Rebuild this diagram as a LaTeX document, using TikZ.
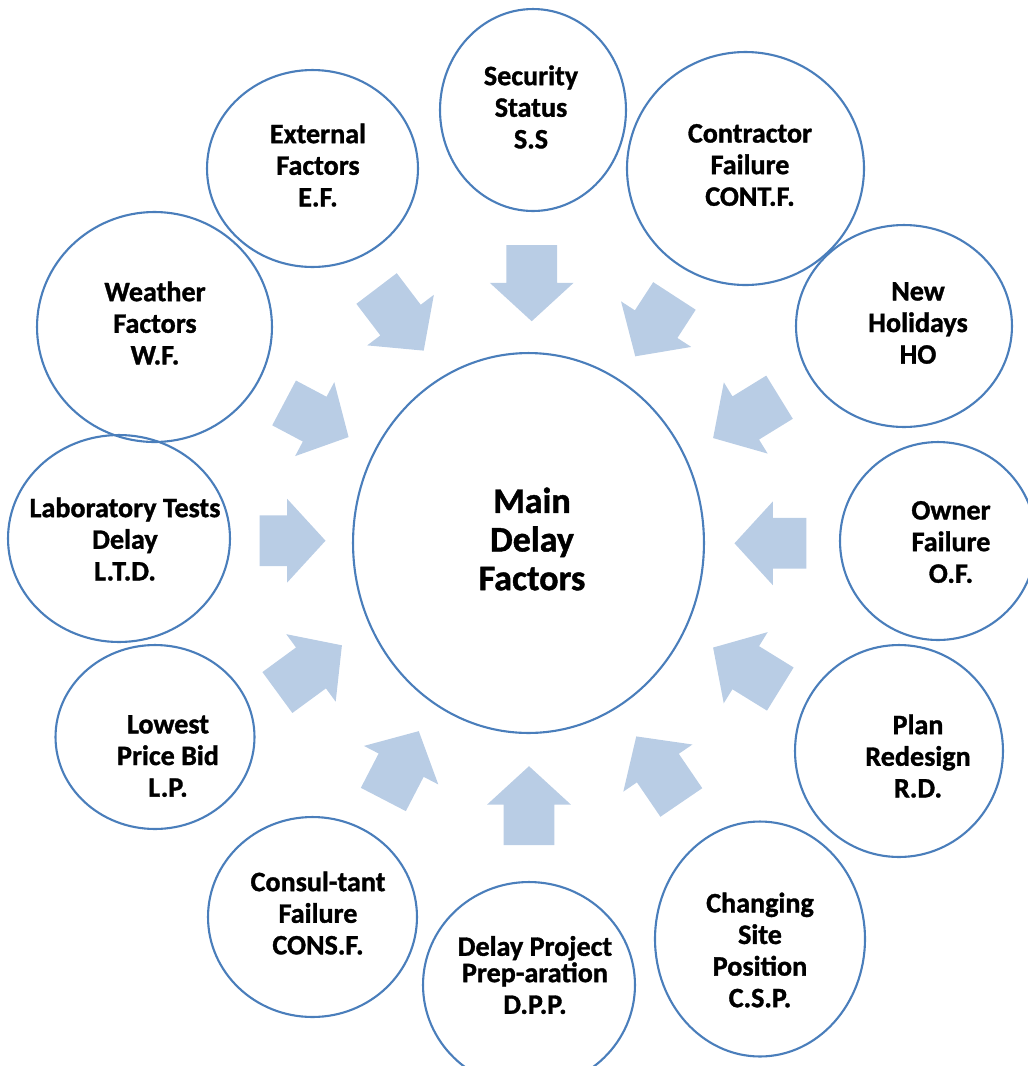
\documentclass[tikz,border=0pt]{standalone}
\usepackage{fontspec}
\setmainfont{Carlito}[BoldFeatures={FakeBold=1.2}]
\usetikzlibrary{shapes.geometric,shapes.arrows}
\definecolor{ringblue}{HTML}{4A7EBB}
\definecolor{arrowblue}{HTML}{B9CDE5}

\begin{document}
\begin{tikzpicture}[x=0.02cm,y=-0.02cm,
    ring/.style={ellipse,draw=ringblue,line width=1.2pt,inner sep=0pt},
    factor/.style={align=center,font=\bfseries\fontsize{16}{18}\selectfont},
    push/.style={single arrow,fill=arrowblue,inner xsep=0pt,inner ysep=0.5cm,
      single arrow head extend=0.33cm,single arrow tip angle=95,anchor=tip}]
    \clip (0,0) rectangle (1028,1066);
    % centre
    \node[ring,minimum width=7.02cm,minimum height=7.6cm] (main) at (528.5,543) {};
    \node[factor,font=\bfseries\fontsize{20.5}{22}\selectfont] (maintxt) at (532,539) {Main\\Delay\\Factors};

    % the twelve factors round it
    \node[ring,minimum width=3.72cm,minimum height=4.04cm] (ss) at (533,110) {};
    \node[factor] (sstxt) at (531,107) {Security\\Status\\S.S};
    \node[ring,minimum width=4.74cm,minimum height=4.66cm] (cf) at (745.5,168.5) {};
    \node[factor] (cftxt) at (750,165) {Contractor\\Failure\\CONT.F.};
    \node[ring,minimum width=4.32cm,minimum height=4.04cm] (ho) at (904,326) {};
    \node[factor] (hotxt) at (918,323) {New\\Holidays\\HO};
    \node[ring,minimum width=3.92cm,minimum height=3.96cm] (of) at (938,541) {};
    \node[factor] (oftxt) at (951,542) {Owner\\Failure\\O.F.};
    \node[ring,minimum width=4.16cm,minimum height=4.24cm] (rd) at (899,751) {};
    \node[factor] (rdtxt) at (918,756) {Plan\\Redesign\\R.D.};
    \node[ring,minimum width=4.2cm,minimum height=4.7cm] (csp) at (760,939) {};
    \node[factor] (csptxt) at (760,950) {Changing\\Site\\Position\\C.S.P.};
    \node[ring,minimum width=4.24cm,minimum height=4.12cm] (dpp) at (529,985) {};
    \node[factor] (dpptxt) at (535,975) {Delay Project\\[-3pt]Prep-aration\\D.P.P.};
    \node[ring,minimum width=4.18cm,minimum height=4cm] (cons) at (312.5,917) {};
    \node[factor] (constxt) at (318,913) {Consul-tant\\Failure\\CONS.F.};
    \node[ring,minimum width=3.98cm,minimum height=3.68cm] (lp) at (155,737) {};
    \node[factor] (lptxt) at (168,756) {Lowest\\Price Bid\\L.P.};
    \node[ring,minimum width=4.44cm,minimum height=4.14cm] (ltd) at (119,538.5) {};
    \node[factor] (ltdtxt) at (125,539) {Laboratory Tests\\Delay\\L.T.D.};
    \node[ring,minimum width=4.7cm,minimum height=4.6cm] (wf) at (154.5,327) {};
    \node[factor] (wftxt) at (155,323) {Weather\\Factors\\W.F.};
    \node[ring,minimum width=4.22cm,minimum height=3.94cm] (ef) at (312.5,168.5) {};
    \node[factor] (eftxt) at (318,165) {External\\Factors\\E.F.};

    % block arrows, placed by their tips
    \node[push,minimum height=1.52cm,rotate=-90] (pss) at (531.7,321.7) {};
    \node[push,minimum height=1.44cm,rotate=-123] (pcf) at (635,356.7) {};
    \node[push,minimum height=1.56cm,rotate=-148.4] (pho) at (712.7,438.3) {};
    \node[push,minimum height=1.44cm,rotate=180] (pof) at (734,543.3) {};
    \node[push,minimum height=1.58cm,rotate=148.3] (prd) at (712.7,647.3) {};
    \node[push,minimum height=1.6cm,rotate=124.3] (pcsp) at (636,736) {};
    \node[push,minimum height=1.58cm,rotate=90] (pdpp) at (529,765.7) {};
    \node[push,minimum height=1.54cm,rotate=62.6] (pcons) at (419,730.7) {};
    \node[push,minimum height=1.6cm,rotate=36.2] (plp) at (342.3,645) {};
    \node[push,minimum height=1.32cm,rotate=0] (pltd) at (326,540.7) {};
    \node[push,minimum height=1.46cm,rotate=-27.9] (pwf) at (349,437.3) {};
    \node[push,minimum height=1.56cm,rotate=-52.8] (pef) at (424,351) {};
\end{tikzpicture}
\end{document}
